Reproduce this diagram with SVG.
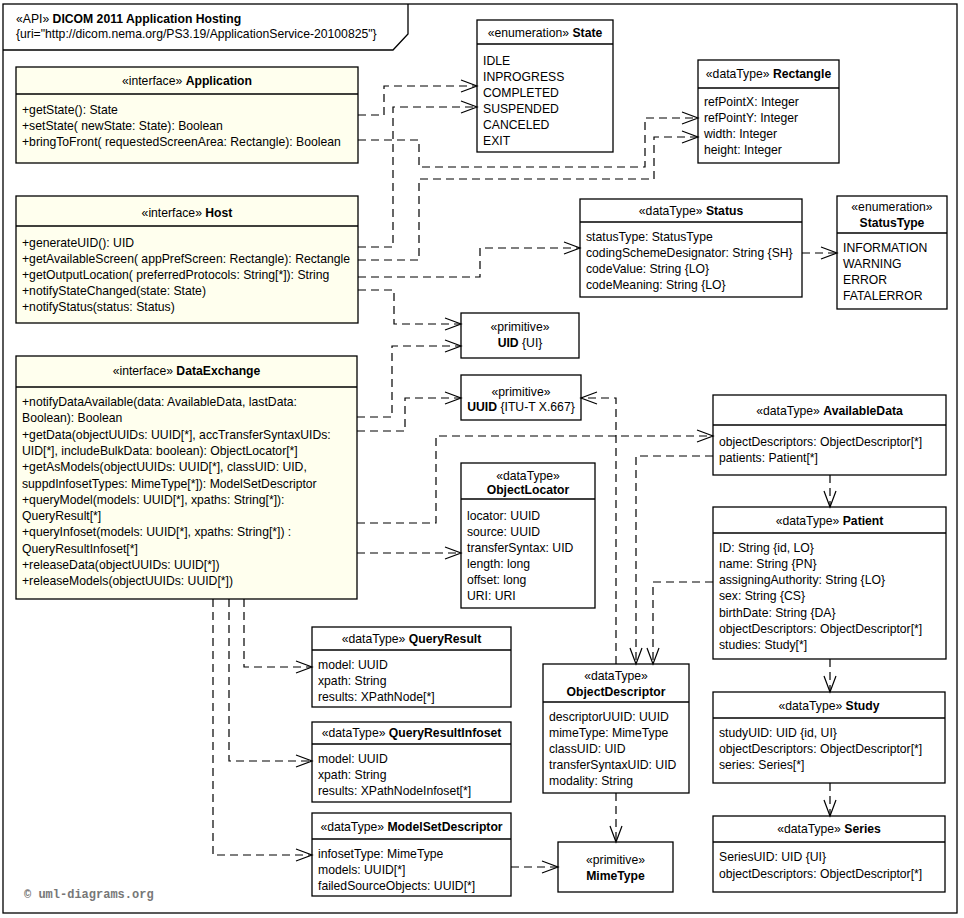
<svg xmlns="http://www.w3.org/2000/svg" width="964" height="918" viewBox="0 0 964 918">
<style>
.bg{fill:#fff}
.frame{fill:none;stroke:#000;stroke-width:1.3}
.box{fill:#fff;stroke:#000;stroke-width:1.3}
.ifc{fill:#ffffee;stroke:#000;stroke-width:1.3}
.div{stroke:#000;stroke-width:1.3}
text{font-family:"Liberation Sans",Arial,sans-serif;font-size:12.2px;fill:#000}
.c{text-anchor:middle}
.b{font-weight:bold}
.copy{font-family:"Liberation Mono","DejaVu Sans Mono",monospace;font-size:12px;fill:#777;font-weight:bold}
#connectors path{fill:none;stroke:#000;stroke-width:1.2;stroke-dasharray:8,5;marker-end:url(#arr)}
</style>
<defs>
<marker id="arr" markerWidth="18" markerHeight="14" refX="16" refY="6" orient="auto" markerUnits="userSpaceOnUse" overflow="visible">
<path d="M0,0 L16,6 L0,12" fill="none" stroke="#000" stroke-width="1.2" stroke-dasharray="none"/>
</marker>
</defs>
<rect class="bg" x="0" y="0" width="964" height="918"/>
<g id="frame">
<rect class="frame" x="3" y="4" width="954" height="909"/>
<path class="frame" d="M3,50 H393 L408,34 V4"/>
<text x="16" y="23">«API» <tspan class="b">DICOM 2011 Application Hosting</tspan></text>
<text x="16" y="38">{uri="http://dicom.nema.org/PS3.19/ApplicationService-20100825"}</text>
</g>

<g id="Application">
<rect class="ifc" x="16" y="67" width="342" height="96"/>
<line class="div" x1="16" y1="94" x2="358" y2="94"/>
<text class="c" x="187" y="85">«interface» <tspan class="b">Application</tspan></text>
<text x="22" y="114">+getState(): State</text>
<text x="22" y="130">+setState( newState: State): Boolean</text>
<text x="22" y="146">+bringToFront( requestedScreenArea: Rectangle): Boolean</text>
</g>

<g id="Host">
<rect class="ifc" x="16" y="196" width="342" height="127"/>
<line class="div" x1="16" y1="226" x2="358" y2="226"/>
<text class="c" x="187" y="217">«interface» <tspan class="b">Host</tspan></text>
<text x="22" y="247">+generateUID(): UID</text>
<text x="22" y="263">+getAvailableScreen( appPrefScreen: Rectangle): Rectangle</text>
<text x="22" y="279">+getOutputLocation( preferredProtocols: String[*]): String</text>
<text x="22" y="295">+notifyStateChanged(state: State)</text>
<text x="22" y="311">+notifyStatus(status: Status)</text>
</g>

<g id="DataExchange">
<rect class="ifc" x="16" y="356" width="341" height="243"/>
<line class="div" x1="16" y1="387" x2="357" y2="387"/>
<text class="c" x="186.5" y="375">«interface» <tspan class="b">DataExchange</tspan></text>
<text x="22" y="406">+notifyDataAvailable(data: AvailableData, lastData:</text>
<text x="22" y="422">Boolean): Boolean</text>
<text x="22" y="439">+getData(objectUUIDs: UUID[*], accTransferSyntaxUIDs:</text>
<text x="22" y="455">UID[*], includeBulkData: boolean): ObjectLocator[*]</text>
<text x="22" y="471">+getAsModels(objectUUIDs: UUID[*], classUID: UID,</text>
<text x="22" y="488">suppdInfosetTypes: MimeType[*]): ModelSetDescriptor</text>
<text x="22" y="504">+queryModel(models: UUID[*], xpaths: String[*]):</text>
<text x="22" y="520">QueryResult[*]</text>
<text x="22" y="536">+queryInfoset(models: UUID[*], xpaths: String[*]) :</text>
<text x="22" y="553">QueryResultInfoset[*]</text>
<text x="22" y="569">+releaseData(objectUUIDs: UUID[*])</text>
<text x="22" y="585">+releaseModels(objectUUIDs: UUID[*])</text>
</g>

<g id="State">
<rect class="box" x="477" y="20" width="136" height="132"/>
<line class="div" x1="477" y1="44" x2="613" y2="44"/>
<text class="c" x="545" y="37">«enumeration» <tspan class="b">State</tspan></text>
<text x="483" y="65">IDLE</text>
<text x="483" y="81">INPROGRESS</text>
<text x="483" y="97">COMPLETED</text>
<text x="483" y="113">SUSPENDED</text>
<text x="483" y="129">CANCELED</text>
<text x="483" y="145">EXIT</text>
</g>

<g id="Rectangle">
<rect class="box" x="698" y="60" width="141" height="103"/>
<line class="div" x1="698" y1="88" x2="839" y2="88"/>
<text class="c" x="768.5" y="78">«dataType» <tspan class="b">Rectangle</tspan></text>
<text x="704" y="106">refPointX: Integer</text>
<text x="704" y="122">refPointY: Integer</text>
<text x="704" y="138">width: Integer</text>
<text x="704" y="154">height: Integer</text>
</g>

<g id="Status">
<rect class="box" x="580" y="199" width="222" height="98"/>
<line class="div" x1="580" y1="222" x2="802" y2="222"/>
<text class="c" x="691" y="215">«dataType» <tspan class="b">Status</tspan></text>
<text x="586" y="241">statusType: StatusType</text>
<text x="586" y="257">codingSchemeDesignator: String {SH}</text>
<text x="586" y="273">codeValue: String {LO}</text>
<text x="586" y="289">codeMeaning: String {LO}</text>
</g>

<g id="StatusType">
<rect class="box" x="837" y="196" width="110" height="113"/>
<line class="div" x1="837" y1="233" x2="947" y2="233"/>
<text class="c" x="892" y="211">«enumeration»</text>
<text class="c b" x="892" y="227">StatusType</text>
<text x="843" y="252">INFORMATION</text>
<text x="843" y="268">WARNING</text>
<text x="843" y="284">ERROR</text>
<text x="843" y="300">FATALERROR</text>
</g>

<g id="UID">
<rect class="box" x="461" y="313" width="118" height="45"/>
<text class="c" x="520" y="331">«primitive»</text>
<text class="c" x="520" y="347"><tspan class="b">UID</tspan> {UI}</text>
</g>

<g id="UUID">
<rect class="box" x="461" y="375" width="120" height="45"/>
<text class="c" x="521" y="396">«primitive»</text>
<text class="c" x="521" y="411"><tspan class="b">UUID</tspan> {ITU-T X.667}</text>
</g>

<g id="ObjectLocator">
<rect class="box" x="461" y="463" width="134" height="145"/>
<line class="div" x1="461" y1="499" x2="595" y2="499"/>
<text class="c" x="528" y="480">«dataType»</text>
<text class="c b" x="528" y="494">ObjectLocator</text>
<text x="467" y="520">locator: UUID</text>
<text x="467" y="536">source: UUID</text>
<text x="467" y="552">transferSyntax: UID</text>
<text x="467" y="568">length: long</text>
<text x="467" y="584">offset: long</text>
<text x="467" y="600">URI: URI</text>
</g>

<g id="AvailableData">
<rect class="box" x="713" y="395" width="233" height="80"/>
<line class="div" x1="713" y1="425" x2="946" y2="425"/>
<text class="c" x="829.5" y="415">«dataType» <tspan class="b">AvailableData</tspan></text>
<text x="719" y="446">objectDescriptors: ObjectDescriptor[*]</text>
<text x="719" y="462">patients: Patient[*]</text>
</g>

<g id="Patient">
<rect class="box" x="713" y="507" width="233" height="152"/>
<line class="div" x1="713" y1="533" x2="946" y2="533"/>
<text class="c" x="829.5" y="525">«dataType» <tspan class="b">Patient</tspan></text>
<text x="719" y="552">ID: String {id, LO}</text>
<text x="719" y="568">name: String {PN}</text>
<text x="719" y="584">assigningAuthority: String {LO}</text>
<text x="719" y="600">sex: String {CS}</text>
<text x="719" y="617">birthDate: String {DA}</text>
<text x="719" y="633">objectDescriptors: ObjectDescriptor[*]</text>
<text x="719" y="649">studies: Study[*]</text>
</g>

<g id="Study">
<rect class="box" x="713" y="692" width="232" height="91"/>
<line class="div" x1="713" y1="718" x2="945" y2="718"/>
<text class="c" x="829" y="710">«dataType» <tspan class="b">Study</tspan></text>
<text x="719" y="737">studyUID: UID {id, UI}</text>
<text x="719" y="753">objectDescriptors: ObjectDescriptor[*]</text>
<text x="719" y="769">series: Series[*]</text>
</g>

<g id="Series">
<rect class="box" x="713" y="816" width="232" height="76"/>
<line class="div" x1="713" y1="842" x2="945" y2="842"/>
<text class="c" x="829" y="833">«dataType» <tspan class="b">Series</tspan></text>
<text x="719" y="861">SeriesUID: UID {UI}</text>
<text x="719" y="878">objectDescriptors: ObjectDescriptor[*]</text>
</g>

<g id="QueryResult">
<rect class="box" x="312" y="627" width="199" height="80"/>
<line class="div" x1="312" y1="650" x2="511" y2="650"/>
<text class="c" x="411.5" y="643">«dataType» <tspan class="b">QueryResult</tspan></text>
<text x="318" y="669">model: UUID</text>
<text x="318" y="685">xpath: String</text>
<text x="318" y="701">results: XPathNode[*]</text>
</g>

<g id="QueryResultInfoset">
<rect class="box" x="312" y="722" width="199" height="80"/>
<line class="div" x1="312" y1="744" x2="511" y2="744"/>
<text class="c" x="411.5" y="737">«dataType» <tspan class="b">QueryResultInfoset</tspan></text>
<text x="318" y="763">model: UUID</text>
<text x="318" y="779">xpath: String</text>
<text x="318" y="795">results: XPathNodeInfoset[*]</text>
</g>

<g id="ModelSetDescriptor">
<rect class="box" x="312" y="813" width="199" height="83"/>
<line class="div" x1="312" y1="839" x2="511" y2="839"/>
<text class="c" x="411.5" y="831">«dataType» <tspan class="b">ModelSetDescriptor</tspan></text>
<text x="318" y="858">infosetType: MimeType</text>
<text x="318" y="874">models: UUID[*]</text>
<text x="318" y="890">failedSourceObjects: UUID[*]</text>
</g>

<g id="ObjectDescriptor">
<rect class="box" x="543" y="664" width="146" height="129"/>
<line class="div" x1="543" y1="702" x2="689" y2="702"/>
<text class="c" x="616" y="680">«dataType»</text>
<text class="c b" x="616" y="696">ObjectDescriptor</text>
<text x="549" y="721">descriptorUUID: UUID</text>
<text x="549" y="737">mimeType: MimeType</text>
<text x="549" y="753">classUID: UID</text>
<text x="549" y="769">transferSyntaxUID: UID</text>
<text x="549" y="785">modality: String</text>
</g>

<g id="MimeType">
<rect class="box" x="558" y="842" width="115" height="50"/>
<text class="c" x="615.5" y="864">«primitive»</text>
<text class="c b" x="615.5" y="880">MimeType</text>
</g>

<g id="connectors">
<path d="M358,115 H384 V86 H477"/>
<path d="M358,247 H393 V107 H477"/>
<path d="M358,140 H419 V167 H645 V118 H698"/>
<path d="M358,260 H419 V179 H654 V137 H698"/>
<path d="M358,277 H480 V248 H580"/>
<path d="M358,290 H394 V324 H461"/>
<path d="M802,253 H837"/>
<path d="M357,417 H392 V346 H461"/>
<path d="M357,431 H405 V398 H461"/>
<path d="M357,523 H436 V436 H713"/>
<path d="M357,553 H461"/>
<path d="M616,664 V398 H581"/>
<path d="M713,456 H636 V664"/>
<path d="M713,582 H653 V664"/>
<path d="M830,475 V507"/>
<path d="M830,659 V692"/>
<path d="M830,783 V816"/>
<path d="M616,793 V842"/>
<path d="M511,867 H558"/>
<path d="M244,599 V667 H312"/>
<path d="M229,599 V761 H312"/>
<path d="M213,599 V855 H312"/>
</g>

<text class="copy" x="24" y="898">© uml-diagrams.org</text>
</svg>
